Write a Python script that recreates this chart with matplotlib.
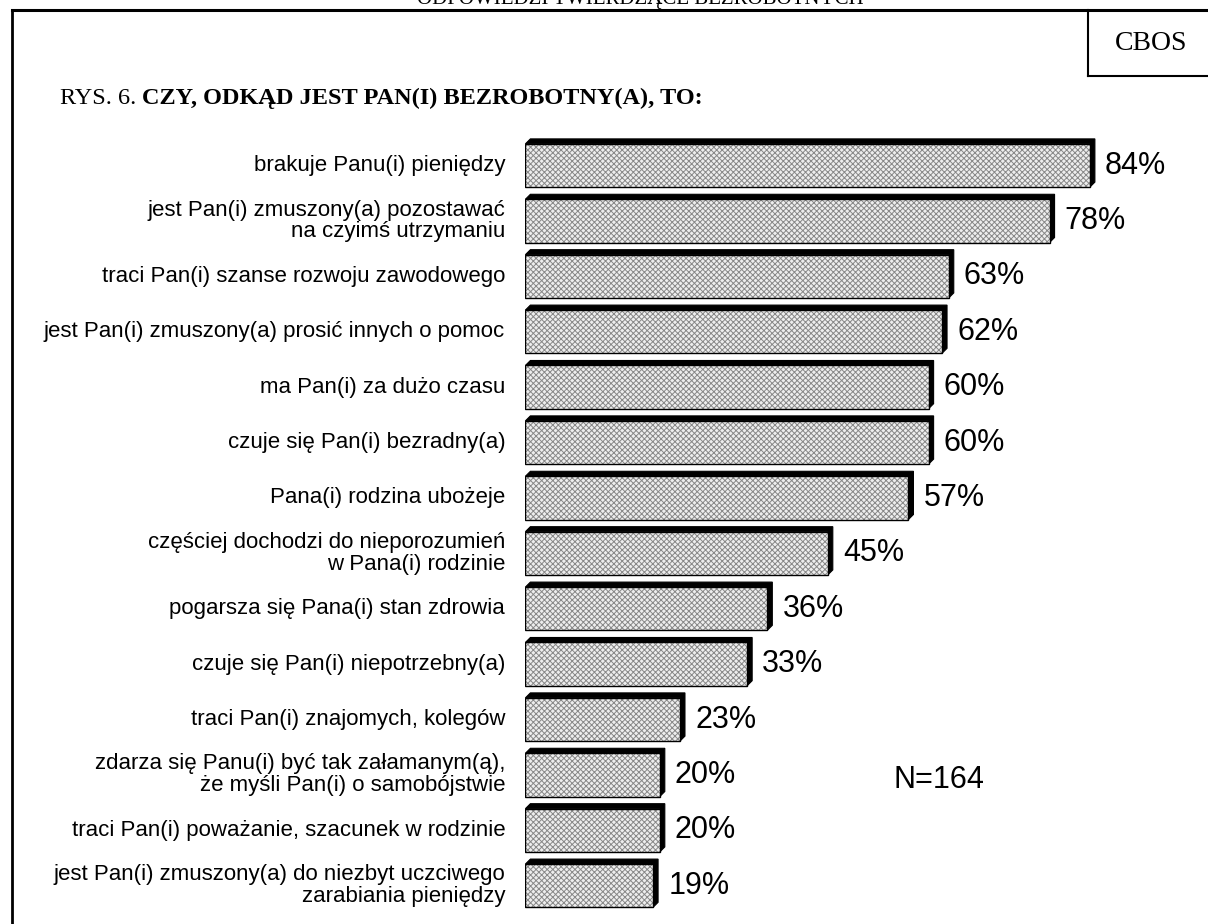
import matplotlib
matplotlib.use("Agg")
import matplotlib.pyplot as plt
from matplotlib.patches import Polygon, Rectangle

labels = [
    "brakuje Panu(i) pieniędzy",
    "jest Pan(i) zmuszony(a) pozostawać\nna czyimś utrzymaniu",
    "traci Pan(i) szanse rozwoju zawodowego",
    "jest Pan(i) zmuszony(a) prosić innych o pomoc",
    "ma Pan(i) za dużo czasu",
    "czuje się Pan(i) bezradny(a)",
    "Pana(i) rodzina ubożeje",
    "częściej dochodzi do nieporozumień\nw Pana(i) rodzinie",
    "pogarsza się Pana(i) stan zdrowia",
    "czuje się Pan(i) niepotrzebny(a)",
    "traci Pan(i) znajomych, kolegów",
    "zdarza się Panu(i) być tak załamanym(ą),\nże myśli Pan(i) o samobójstwie",
    "traci Pan(i) poważanie, szacunek w rodzinie",
    "jest Pan(i) zmuszony(a) do niezbyt uczciwego\nzarabiania pieniędzy",
]
values = [84, 78, 63, 62, 60, 60, 57, 45, 36, 33, 23, 20, 20, 19]

W, H = 1208, 924
fig = plt.figure(figsize=(W / 100, H / 100), dpi=100)

# bar area, placed in pixel terms
px_per_pct = 6.72
row_px = 55.4
x0 = 525.4
y_first = 165.5
ax_top = y_first - 0.5 * row_px
ax_bot = y_first + 13.5 * row_px
ax = fig.add_axes([x0 / W, 1 - ax_bot / H, 100 * px_per_pct / W, (ax_bot - ax_top) / H])
ax.set_xlim(0, 100)
ax.set_ylim(13.5, -0.5)
ax.axis("off")

plt.rcParams["hatch.linewidth"] = 0.7
h = 0.78
dx = 5 / px_per_pct
dy = 5 / row_px
for i, v in enumerate(values):
    top = i - h / 2
    bot = i + h / 2
    # 3d depth: black slab up and to the right
    shadow = Polygon([(0, top), (dx, top - dy), (v + dx, top - dy), (v + dx, bot - dy),
                      (v, bot), (v, top)], closed=True, facecolor="black", edgecolor="black", lw=0.8)
    ax.add_patch(shadow)
    ax.add_patch(Rectangle((0, top), v, h, facecolor="#eeeeee", edgecolor="#888888",
                           hatch="xxxxxx", lw=0))
    ax.add_patch(Rectangle((0, top), v, h, facecolor="none", edgecolor="black", lw=1.0))
    ax.text(v + dx + 1.5, i, f"{v}%", ha="left", va="center", fontsize=22,
            family="Liberation Sans", color="black")
    ax.text(-3.0, i, labels[i], ha="right", va="center", fontsize=16,
            family="Liberation Sans", color="black", linespacing=1.05)

ax.text(61.5, 11.1, "N=164", ha="center", va="center", fontsize=22,
        family="Liberation Sans", color="black")

# frame around the chart
fig.add_artist(plt.Line2D([12 / W, 12 / W], [0, 1 - 10 / H], color="black", lw=2))
fig.add_artist(plt.Line2D([12 / W, 1], [1 - 10 / H, 1 - 10 / H], color="black", lw=2.2))
fig.add_artist(plt.Line2D([1088 / W, 1088 / W], [1 - 10 / H, 1 - 76 / H], color="black", lw=1.5))
fig.add_artist(plt.Line2D([1088 / W, 1], [1 - 76 / H, 1 - 76 / H], color="black", lw=1.5))

fig.text(1151 / W, 1 - 43 / H, "CBOS", ha="center", va="center", fontsize=20,
         family="Liberation Serif")
fig.text(640 / W, 1 - 4 / H, "ODPOWIEDZI TWIERDZĄCE BEZROBOTNYCH", ha="center",
         va="baseline", fontsize=15, family="Liberation Serif")

t1 = fig.text(60 / W, 1 - 104 / H, "RYS. 6. ", ha="left", va="baseline", fontsize=17.5,
              family="Liberation Serif")
fig.canvas.draw()
bb = t1.get_window_extent(renderer=fig.canvas.get_renderer())
fig.text(bb.x1 / W, 1 - 104 / H, "CZY, ODKĄD JEST PAN(I) BEZROBOTNY(A), TO:", ha="left",
         va="baseline", fontsize=17.5, family="Liberation Serif", weight="bold")

fig.savefig("out.png", dpi=100, facecolor="white")
